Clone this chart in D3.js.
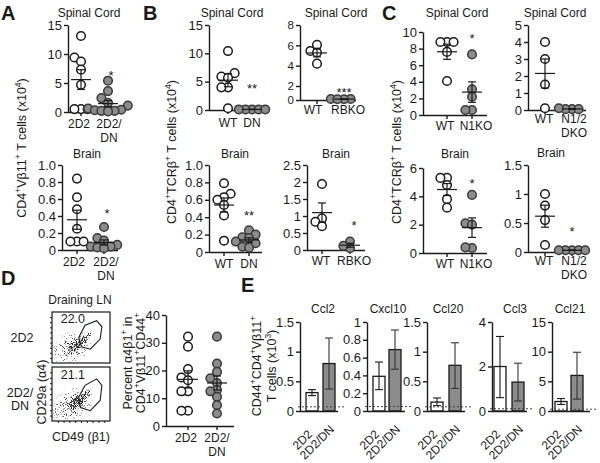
<!DOCTYPE html>
<html><head><meta charset="utf-8">
<script src="https://cdn.jsdelivr.net/npm/d3@7"></script>
<style>body{margin:0;background:#fff}svg{display:block}text{font-family:'Liberation Sans',Arial,Helvetica,sans-serif;fill:#1a1a1a}</style>
</head><body><svg id="c" width="600" height="463"></svg>
<script>
// ---------------- DATA ----------------
const aCats = ["2D2", "2D2/DN"];
const aCatLines = [["2D2"], ["2D2/", "DN"]];
const aSpinal2D2 = [13.1, 9.4, 8.7, 7.3, 4.7, 0.5, 0.5, 0.5];
const aSpinalDN = [5.4, 3.6, 2.4, 1.6, 1.1, 0.6, 0.4, 0.3, 0.2, 0.2, 0.1];
const aBrain2D2 = [0.84, 0.62, 0.48, 0.25, 0.1, 0.1, 0.1];
const aBrainDN = [0.27, 0.14, 0.11, 0.06, 0.04, 0.04, 0.03, 0.02];

const bCats = ["WT", "DN"];
const bSpinalWT = [10.4, 6.5, 5.9, 5.7, 4.0, 4.0, 0.3];
const bSpinalDN = [0.1, 0.1, 0.1, 0.1, 0.1];
const bBrainWT = [0.79, 0.67, 0.63, 0.6, 0.54, 0.42, 0.13];
const bBrainDN = [0.25, 0.2, 0.17, 0.16, 0.12, 0.1, 0.06, 0.05];

const rbCats = ["WT", "RBKO"];
const rbSpinalWT = [6.05, 5.45, 5.3, 4.2];
const rbSpinalKO = [0.15, 0.1, 0.15, 0.1];
const rbBrainWT = [1.94, 0.93, 0.83, 0.7];
const rbBrainKO = [0.25, 0.05, 0.12];

const cCats = ["WT", "N1KO"];
const cSpinalWT = [8.8, 8.8, 8.8, 7.6, 4.1];
const cSpinalKO = [7.3, 3.1, 2.2, 0.6, 0.6];
const cBrainWT = [5.3, 5.3, 4.8, 3.8, 3.2];
const cBrainKO = [4.1, 2.1, 2.0, 0.35, 0.4];

const dkoCats = ["WT", "N1/2 DKO"];
const dkoCatLines = [["WT"], ["N1/2", "DKO"]];
const dkoSpinalWT = [4.0, 3.0, 1.5, 0.1];
const dkoSpinalKO = [0.05, 0.05, 0.1, 0.05];
const dkoBrainWT = [1.0, 0.8, 0.55, 0.12];
const dkoBrainKO = [0.03, 0.03, 0.03, 0.03, 0.03];

const dCats = ["2D2", "2D2/DN"];
const dPct2D2 = [32.2, 28.6, 20.5, 17.5, 16.5, 12.5, 12.5, 5.5, 5.5];
const dPctDN = [32.2, 22.5, 19.5, 17.2, 15.5, 13, 12.5, 10.5, 7.5, 4.5];
const flowPct = ["22.0", "21.1"];
const gate1 = [[0.46,0.5],[0.57,0.74],[0.77,0.83],[0.86,0.71],[0.83,0.47],[0.66,0.27],[0.51,0.32]];
const gate2 = [[0.46,0.44],[0.57,0.66],[0.77,0.78],[0.86,0.66],[0.83,0.38],[0.66,0.19],[0.49,0.25]];
const flowClouds = [
  {cx:0.34, cy:0.30, rx:0.46, ry:0.33, rot:-32, a:0.5},
  {cx:0.42, cy:0.34, rx:0.22, ry:0.12, rot:-40, a:0.9},
  {cx:0.60, cy:0.50, rx:0.16, ry:0.08, rot:-45, a:0.8}
];

const eGenes = ["Ccl2", "Cxcl10", "Ccl20", "Ccl3", "Ccl21"];
const eCats = ["2D2", "2D2/DN"];
const eMax = [1.5, 1, 1.5, 4, 15];
const eTicks = [[0,0.5,1,1.5],[0,0.2,0.4,0.6,0.8,1],[0,0.5,1,1.5],[0,2,4],[0,5,10,15]];
const e2D2 = [0.31, 0.39, 0.15, 2.0, 1.6];
const e2D2Lo = [0.26, 0.24, 0.09, 0.6, 1.1];
const e2D2Hi = [0.36, 0.55, 0.22, 3.35, 2.1];
const eDN = [0.80, 0.69, 0.77, 1.3, 6.0];
const eDNLo = [0.37, 0.47, 0.38, 0.45, 2.0];
const eDNHi = [1.23, 0.91, 1.15, 2.15, 9.9];
const eLimit = [0.07, 0.05, 0.07, 0.1, 0.3];

// ---------------- HELPERS ----------------
const svg = d3.select("#c");
const INK = "#1a1a1a", GRAYF = "#8c8c8c", GRAYS = "#3a3a3a";
const FS = 12.5, CFS = 12, TFS = 13, TITLE = 12;

function rich(sel, str, supSize) {
  const parts = str.split("^");
  let pend = 0;
  parts.forEach((s, i) => {
    if (!s) return;
    const t = sel.append("tspan").text(s);
    if (i % 2 === 1) { t.attr("font-size", supSize || 8.5).attr("dy", -5); pend = 5; }
    else if (pend) { t.attr("dy", pend); pend = 0; }
  });
  return sel;
}
function label(x, y, str, opt = {}) {
  const t = svg.append("text").attr("x", x).attr("y", y)
    .attr("font-size", opt.size || FS).attr("text-anchor", opt.anchor || "middle")
    .attr("font-weight", opt.weight || "normal");
  if (opt.rot) t.attr("transform", `rotate(${opt.rot},${x},${y})`);
  rich(t, str, opt.sup);
  return t;
}
function styleAxis(g, fs) {
  g.attr("font-size", fs || TFS).attr("font-family", null);
  g.selectAll("path,line").attr("stroke", INK).attr("stroke-width", 1.4);
  g.selectAll("text").attr("fill", INK);
}
function swarm(ys, r, step, minD) {
  const order = ys.map((v, i) => i).sort((a, b) => ys[b] - ys[a]);
  const placed = [], off = new Array(ys.length).fill(0);
  for (const i of order) {
    for (let k = 0; k < 30; k++) {
      const o = (k % 2 ? -1 : 1) * Math.ceil(k / 2) * step;
      if (placed.every(p => Math.hypot(p.x - o, p.y - ys[i]) >= minD)) {
        off[i] = o; placed.push({ x: o, y: ys[i] }); break;
      }
    }
  }
  return off;
}

function scatterPanel(p) {
  const g = svg.append("g");
  const y = p.mid
    ? d3.scaleLinear().domain([0, p.mid[0], p.max]).range([p.y0, p.mid[1], p.yTop])
    : d3.scaleLinear().domain([0, p.max]).range([p.y0, p.yTop]);
  const x = d3.scalePoint().domain(p.cats).range(p.catX);
  const ya = d3.axisLeft(y).tickValues(p.ticks).tickSize(4).tickSizeOuter(0).tickPadding(2)
    .tickFormat(p.fmt || (d => d));
  const yg = g.append("g").attr("transform", `translate(${p.axisX},0)`).call(ya);
  styleAxis(yg, p.tfs || TFS);
  g.append("line").attr("x1", p.axisX).attr("x2", p.xEnd).attr("y1", p.y0 + 0.5).attr("y2", p.y0 + 0.5)
    .attr("stroke", INK).attr("stroke-width", 1.4);
  p.cats.forEach((c, i) => {
    g.append("line").attr("x1", x(c)).attr("x2", x(c)).attr("y1", p.y0).attr("y2", p.y0 + 4)
      .attr("stroke", INK).attr("stroke-width", 1.4);
    const lines = p.catLines ? p.catLines[i] : [c];
    lines.forEach((ln, j) => label(x(c) + (p.labDx ? p.labDx[i] : 0), p.y0 + p.labDy + j * 13.5, ln, { size: CFS }));
  });
  const r = 4.3;
  [p.s1, p.s2].forEach((vals, si) => {
    const cx = x(p.cats[si]);
    const ys = vals.map(v => y(v));
    const off = swarm(ys, r, 6.6, 6.4);
    g.selectAll(null).data(vals).enter().append("circle")
      .attr("cx", (d, i) => cx + off[i]).attr("cy", d => y(d)).attr("r", r)
      .attr("fill", si ? GRAYF : "#fff").attr("stroke", si ? GRAYS : INK).attr("stroke-width", 1.5);
    const m = d3.mean(vals), se = d3.deviation(vals) / Math.sqrt(vals.length);
    const ml = g.append("g").attr("stroke", INK).attr("stroke-width", 1.2);
    ml.append("line").attr("x1", cx - 10).attr("x2", cx + 10).attr("y1", y(m)).attr("y2", y(m));
    ml.append("line").attr("x1", cx).attr("x2", cx).attr("y1", y(Math.max(0, m - se))).attr("y2", y(m + se));
    ml.append("line").attr("x1", cx - 4).attr("x2", cx + 4).attr("y1", y(m + se)).attr("y2", y(m + se));
    ml.append("line").attr("x1", cx - 4).attr("x2", cx + 4).attr("y1", y(Math.max(0, m - se))).attr("y2", y(Math.max(0, m - se)));
  });
  if (p.title) label(p.titleX, p.titleY, p.title, { size: TITLE });
  if (p.star) label(x(p.cats[1]) + (p.starDx || 0), p.starY, p.star, { size: 13 });
}

const fmtDec = d => d === 0 ? "0" : d3.format(".1f")(d);
const fmtG = d => String(d);

// ---------------- PANEL LETTERS ----------------
[["A", 1, 20], ["B", 143, 20], ["C", 382, 20], ["D", 1, 285], ["E", 241, 292]].forEach(l =>
  label(l[1], l[2], l[0], { size: 20, weight: "bold", anchor: "start" }));

// ---------------- A ----------------
scatterPanel({ axisX: 68, yTop: 25, y0: 112, xEnd: 122, catX: [81, 108], cats: aCats, catLines: aCatLines,
  max: 15, ticks: [0, 5, 10, 15], s1: aSpinal2D2, s2: aSpinalDN, title: "Spinal Cord", titleX: 89, titleY: 17,
  star: "*", starY: 80, starDx: 3, labDy: 16, labDx: [-2, 1] });
scatterPanel({ axisX: 62, yTop: 165, y0: 250, xEnd: 118, catX: [77, 104], cats: aCats, catLines: aCatLines,
  max: 1.0, ticks: [0, 0.2, 0.4, 0.6, 0.8, 1.0], fmt: fmtDec, s1: aBrain2D2, s2: aBrainDN, title: "Brain",
  titleX: 87, titleY: 158, star: "*", starY: 218, starDx: 3, labDy: 16, labDx: [-3, 2] });
label(26, 148, "CD4^+^Vβ11^+^ T cells (x10^4^)", { rot: -90 });

// ---------------- B ----------------
scatterPanel({ axisX: 209, yTop: 25, y0: 110, xEnd: 262, catX: [228, 252], cats: bCats,
  max: 15, ticks: [0, 5, 10, 15], s1: bSpinalWT, s2: bSpinalDN, title: "Spinal Cord", titleX: 232, titleY: 17,
  star: "**", starY: 93, labDy: 17 });
scatterPanel({ axisX: 209, yTop: 165, y0: 252, xEnd: 262, catX: [224, 249], cats: bCats,
  max: 1.0, ticks: [0, 0.2, 0.4, 0.6, 0.8, 1.0], fmt: fmtDec, s1: bBrainWT, s2: bBrainDN, title: "Brain",
  titleX: 235, titleY: 158, star: "**", starY: 220, labDy: 16 });
scatterPanel({ axisX: 300, yTop: 25, y0: 100, xEnd: 356, catX: [317, 344], cats: rbCats, mid: [2, 86], tfs: 11.5,
  max: 8, ticks: [0, 2, 4, 6, 8], s1: rbSpinalWT, s2: rbSpinalKO, title: "Spinal Cord", titleX: 336, titleY: 17,
  star: "***", starY: 97, labDy: 14, labDx: [-4, 4] });
scatterPanel({ axisX: 307, yTop: 165, y0: 250, xEnd: 365, catX: [322, 350], cats: rbCats,
  max: 2.5, ticks: [0, 0.5, 1, 1.5, 2, 2.5], fmt: fmtG, s1: rbBrainWT, s2: rbBrainKO, title: "Brain",
  titleX: 336, titleY: 158, star: "*", starY: 230, starDx: 4, labDy: 15, labDx: [-1, 4] });
label(176, 152, "CD4^+^TCRβ^+^ T cells (x10^4^)", { rot: -90 });

// ---------------- C ----------------
scatterPanel({ axisX: 423, yTop: 32, y0: 115, xEnd: 487, catX: [447, 472], cats: cCats,
  max: 10, ticks: [0, 2, 4, 6, 8, 10], s1: cSpinalWT, s2: cSpinalKO, title: "Spinal Cord", titleX: 457, titleY: 17,
  star: "*", starY: 43, labDy: 15, labDx: [-2, 4] });
scatterPanel({ axisX: 423, yTop: 168, y0: 253, xEnd: 487, catX: [447, 472], cats: cCats,
  max: 6, ticks: [0, 2, 4, 6], s1: cBrainWT, s2: cBrainKO, title: "Brain", titleX: 455, titleY: 158,
  star: "*", starY: 188, labDy: 15, labDx: [-2, 4] });
scatterPanel({ axisX: 528, yTop: 25, y0: 110, xEnd: 586, catX: [545, 572], cats: dkoCats, catLines: dkoCatLines,
  max: 5, ticks: [0, 1, 2, 3, 4, 5], s1: dkoSpinalWT, s2: dkoSpinalKO, title: "Spinal Cord", titleX: 555, titleY: 17,
  labDy: 13, labDx: [-1, 2] });
scatterPanel({ axisX: 528, yTop: 165, y0: 252, xEnd: 586, catX: [545, 572], cats: dkoCats, catLines: dkoCatLines,
  max: 1.5, ticks: [0, 0.5, 1, 1.5], fmt: fmtG, s1: dkoBrainWT, s2: dkoBrainKO, title: "Brain", titleX: 551, titleY: 157,
  star: "*", starY: 236, labDy: 13, labDx: [-1, 2] });
label(401, 152, "CD4^+^TCRβ^+^ T cells (x10^4^)", { rot: -90 });

// ---------------- D : flow plots ----------------
const defs = svg.append("defs");
const rg = defs.append("radialGradient").attr("id", "cloud");
rg.append("stop").attr("offset", 0).attr("stop-color", "#000").attr("stop-opacity", 1);
rg.append("stop").attr("offset", 0.5).attr("stop-color", "#000").attr("stop-opacity", 0.7);
rg.append("stop").attr("offset", 1).attr("stop-color", "#000").attr("stop-opacity", 0);
const flt = defs.append("filter").attr("id", "speck").attr("filterUnits", "userSpaceOnUse")
  .attr("x", 0).attr("y", 0).attr("width", 600).attr("height", 463).attr("color-interpolation-filters", "sRGB");
flt.append("feTurbulence").attr("type", "fractalNoise").attr("baseFrequency", 1.1).attr("numOctaves", 1)
  .attr("seed", 4).attr("result", "n");
flt.append("feColorMatrix").attr("in", "n").attr("type", "matrix")
  .attr("values", "0 0 0 0 0  0 0 0 0 0  0 0 0 0 0  3.2 0 0 0 -1.15").attr("result", "na");
flt.append("feComposite").attr("in", "na").attr("in2", "SourceGraphic").attr("operator", "arithmetic")
  .attr("k1", 0).attr("k2", 1).attr("k3", 1).attr("k4", -1).attr("result", "sum");
const ct = flt.append("feComponentTransfer").attr("in", "sum");
ct.append("feFuncA").attr("type", "linear").attr("slope", 2.6).attr("intercept", 0);

const flowX = d3.scaleLinear().domain([0, 1]).range([52, 110]);
const flowYs = [d3.scaleLinear().domain([0, 1]).range([363, 312]), d3.scaleLinear().domain([0, 1]).range([421, 367])];
const gates = [gate1, gate2];
flowYs.forEach((fy, k) => {
  const cp = defs.append("clipPath").attr("id", "fc" + k);
  cp.append("rect").attr("x", flowX(0)).attr("y", fy(1)).attr("width", flowX(1) - flowX(0)).attr("height", fy(0) - fy(1));
  const g = svg.append("g");
  const cg = g.append("g").attr("clip-path", `url(#fc${k})`).append("g").attr("filter", "url(#speck)").attr("opacity", 0.85);
  flowClouds.forEach(c => {
    cg.append("ellipse").attr("cx", flowX(c.cx)).attr("cy", fy(c.cy))
      .attr("rx", flowX(c.rx) - flowX(0)).attr("ry", fy(0) - fy(c.ry))
      .attr("transform", `rotate(${c.rot},${flowX(c.cx)},${fy(c.cy)})`)
      .attr("fill", "url(#cloud)").attr("fill-opacity", c.a);
  });
  g.append("rect").attr("x", flowX(0)).attr("y", fy(1)).attr("width", flowX(1) - flowX(0)).attr("height", fy(0) - fy(1))
    .attr("fill", "none").attr("stroke", INK).attr("stroke-width", 1.2);
  g.append("path").attr("d", d3.line().x(d => flowX(d[0])).y(d => fy(d[1])).curve(d3.curveLinearClosed)(gates[k]))
    .attr("fill", "none").attr("stroke", INK).attr("stroke-width", 1.1);
  const tk = [0.1, 0.2, 0.3, 0.4, 0.5, 0.6, 0.7, 0.8, 0.9];
  const la = d3.axisLeft(fy).tickValues(tk).tickSize(2).tickFormat("").tickSizeOuter(0);
  const lg = g.append("g").attr("transform", `translate(${flowX(0)},0)`).call(la);
  lg.select(".domain").remove(); lg.selectAll("line").attr("stroke", INK);
  if (k === 1) {
    const ba = d3.axisBottom(flowX).tickValues(tk).tickSize(2).tickFormat("").tickSizeOuter(0);
    const bg = g.append("g").attr("transform", `translate(0,${fy(0)})`).call(ba);
    bg.select(".domain").remove(); bg.selectAll("line").attr("stroke", INK);
  }
  label(flowX(0.36), fy(0.78), flowPct[k], { size: 12.5 });
});
label(80, 304, "Draining LN", { size: 12 });
label(22, 342, "2D2");
label(20, 397, "2D2/");
label(20, 410, "DN");
label(46, 392, "CD29a (α4)", { rot: -90 });
label(81, 441, "CD49 (β1)");

// D scatter
scatterPanel({ axisX: 166, yTop: 315, y0: 426, xEnd: 234, catX: [188, 217], cats: dCats, catLines: aCatLines,
  max: 40, ticks: [0, 10, 20, 30, 40], s1: dPct2D2, s2: dPctDN, labDy: 16, labDx: [-2, 0] });
label(132, 363, "Percent α4β1^+^ in", { rot: -90 });
label(145, 363, "CD4^+^Vβ11^+^CD44^+^", { rot: -90 });

// ---------------- E : bars ----------------
const eAxisX = [300, 367, 427, 492, 552];
const eEnd = [338, 405, 465, 527, 590];
const eBarX = [[312, 329], [379, 395], [437, 455], [500, 518], [561, 577]];
const eTitleX = [323, 388, 448, 515, 570];
const eLabDx = [1, 6], eLabDy = [24, 19];
const eY0 = 411, eTop = 322;
eGenes.forEach((gname, k) => {
  const g = svg.append("g");
  const y = d3.scaleLinear().domain([0, eMax[k]]).range([eY0, eTop]);
  const x = d3.scalePoint().domain(eCats).range(eBarX[k]);
  const bw = 12;
  const yg = g.append("g").attr("transform", `translate(${eAxisX[k]},0)`)
    .call(d3.axisLeft(y).tickValues(eTicks[k]).tickSize(4).tickSizeOuter(0).tickPadding(2).tickFormat(d => String(d)));
  styleAxis(yg, 13);
  const vals = [e2D2[k], eDN[k]], lo = [e2D2Lo[k], eDNLo[k]], hi = [e2D2Hi[k], eDNHi[k]];
  eCats.forEach((c, i) => {
    g.append("rect").attr("x", x(c) - bw / 2).attr("y", y(vals[i])).attr("width", bw).attr("height", y(0) - y(vals[i]))
      .attr("fill", i ? GRAYF : "#fff").attr("stroke", INK).attr("stroke-width", 1.3);
    const eb = g.append("g").attr("stroke", i ? "#333" : INK).attr("stroke-width", 1.1);
    eb.append("line").attr("x1", x(c)).attr("x2", x(c)).attr("y1", y(lo[i])).attr("y2", y(hi[i]));
    eb.append("line").attr("x1", x(c) - 4).attr("x2", x(c) + 4).attr("y1", y(lo[i])).attr("y2", y(lo[i]));
    eb.append("line").attr("x1", x(c) - 4).attr("x2", x(c) + 4).attr("y1", y(hi[i])).attr("y2", y(hi[i]));
    label(x(c) + eLabDx[i], eY0 + eLabDy[i], c, { anchor: "end", rot: -45, size: CFS });
  });
  g.append("line").attr("x1", eAxisX[k]).attr("x2", eEnd[k]).attr("y1", eY0 + 0.5).attr("y2", eY0 + 0.5)
    .attr("stroke", INK).attr("stroke-width", 1.4);
  g.append("line").attr("x1", eAxisX[k] - 2).attr("x2", eEnd[k] + 6).attr("y1", y(eLimit[k])).attr("y2", y(eLimit[k]))
    .attr("stroke", "#444").attr("stroke-width", 1).attr("stroke-dasharray", "2,2");
  label(eTitleX[k], 313, gname, { size: TITLE });
});
label(261, 366, "CD44^+^CD4^+^Vβ11^+^", { rot: -90 });
label(276, 366, "T cells (x10^3^)", { rot: -90 });
</script></body></html>
